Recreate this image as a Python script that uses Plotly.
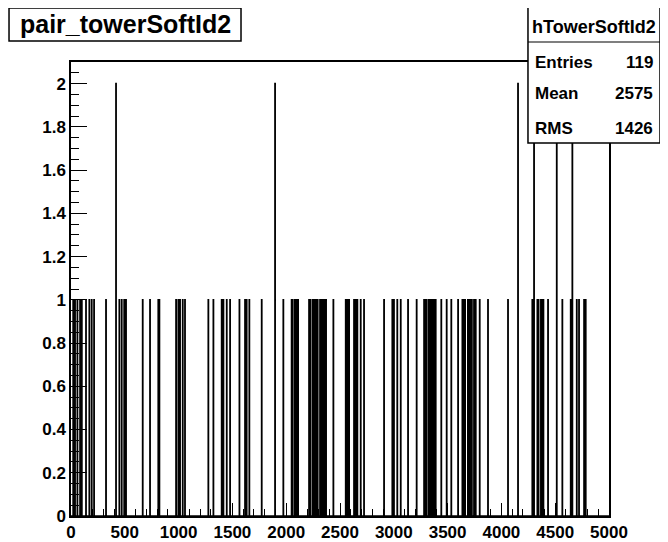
import plotly.graph_objects as go

# bins (lower edges) holding 1 entry
ones_bins = [20, 37, 59, 84, 100, 139, 170, 192, 214, 325, 449, 471, 494, 511,
             666, 734, 811, 821, 976, 997, 1013, 1038, 1059,
             1276, 1323, 1400, 1416, 1447, 1478, 1565, 1617, 1632, 1657, 1772,
             1973, 2050, 2060, 2080, 2090, 2100, 2110, 2212, 2225, 2246, 2261,
             2275, 2292, 2314, 2330, 2345, 2361, 2370, 2438,
             2553, 2568, 2584, 2630, 2646, 2661, 2692, 2723, 2909, 2986, 3001,
             3032, 3064, 3132,
             3212, 3281, 3290, 3300, 3320, 3330, 3340, 3350, 3362, 3374, 3389,
             3441, 3491, 3534, 3597, 3637, 3650, 3662, 3688, 3700, 3712, 3725,
             3745, 3761, 3798, 3875,
             4061, 4287, 4334, 4345, 4367, 4378, 4390, 4433, 4566, 4644, 4700,
             4721, 4768, 4783]
# bins holding 2 entries
twos_bins = [418, 1896, 4154, 4303, 4514, 4659]

n_bins = 5000
x_min, x_max = 0, 5000

hist_name = "hTowerSoftId2"
hist_title = "pair_towerSoftId2"
stats_labels = ["Entries", "Mean", "RMS"]
stats_values = ["119", "2575", "1426"]

counts = [0] * n_bins
for b in ones_bins:
    counts[b] += 1
for b in twos_bins:
    counts[b] += 2

edges = list(range(x_min, x_max + 1))
ys = counts + [counts[-1]]

FONT = "Liberation Sans, Arial, sans-serif"

fig = go.Figure()
fig.add_trace(go.Scatter(
    x=edges, y=ys, mode="lines", line_shape="hv",
    line=dict(color="black", width=1.7),
    hoverinfo="skip", showlegend=False,
))

# the page body adds an 8px margin, so the figure is 8px smaller each way
fig.update_layout(
    width=660, height=534,
    margin=dict(l=63, r=59, t=54, b=26),
    paper_bgcolor="white", plot_bgcolor="white",
    font=dict(family=FONT, color="black"),
    showlegend=False,
)

fig.update_xaxes(
    range=[x_min, x_max], tick0=0, dtick=500, automargin=False,
    ticks="inside", ticklen=13, tickwidth=1.2, tickcolor="black",
    minor=dict(dtick=100, ticks="inside", ticklen=7, tickwidth=1, tickcolor="black"),
    showline=True, mirror=True, linecolor="black", linewidth=1.5,
    showgrid=False, zeroline=False,
    tickfont=dict(family=FONT, size=17, weight="bold"),
)
fig.update_yaxes(
    range=[0, 2.1], tick0=0, dtick=0.2, automargin=False,
    ticks="inside", ticklen=16, tickwidth=1.2, tickcolor="black",
    minor=dict(dtick=0.05, ticks="inside", ticklen=8, tickwidth=1, tickcolor="black"),
    showline=True, mirror=True, linecolor="black", linewidth=1.5,
    showgrid=False, zeroline=False,
    tickfont=dict(family=FONT, size=17, weight="bold"),
)

# title box
fig.add_shape(type="rect", xref="paper", yref="paper",
              x0=-0.1152, x1=0.316, y0=1.0463, y1=1.1189,
              line=dict(color="black", width=1.5), fillcolor="white")
fig.add_annotation(xref="paper", yref="paper", x=0.1004, y=1.0826,
                   xanchor="center", yanchor="middle",
                   text=hist_title, showarrow=False,
                   font=dict(family=FONT, size=25, weight="bold"))

# stats box
fig.add_shape(type="rect", xref="paper", yref="paper",
              x0=0.8494, x1=1.0948, y0=0.8216, y1=1.1211,
              line=dict(color="black", width=1.5), fillcolor="white")
fig.add_shape(type="line", xref="paper", yref="paper",
              x0=0.8494, x1=1.0948, y0=1.0441, y1=1.0441,
              line=dict(color="black", width=1.2))
fig.add_annotation(xref="paper", yref="paper", x=0.9721, y=1.0771,
                   xanchor="center", yanchor="middle",
                   text=hist_name, showarrow=False,
                   font=dict(family=FONT, size=18, weight="bold"))
row_y = [1.0, 0.9317, 0.8546]
for lab, val, yy in zip(stats_labels, stats_values, row_y):
    fig.add_annotation(xref="paper", yref="paper", x=0.8587, y=yy,
                       xanchor="left", yanchor="middle", text=lab, showarrow=False,
                       font=dict(family=FONT, size=17, weight="bold"))
    fig.add_annotation(xref="paper", yref="paper", x=1.0855, y=yy,
                       xanchor="right", yanchor="middle", text=val, showarrow=False,
                       font=dict(family=FONT, size=17, weight="bold"))

fig.write_html("out.html")
